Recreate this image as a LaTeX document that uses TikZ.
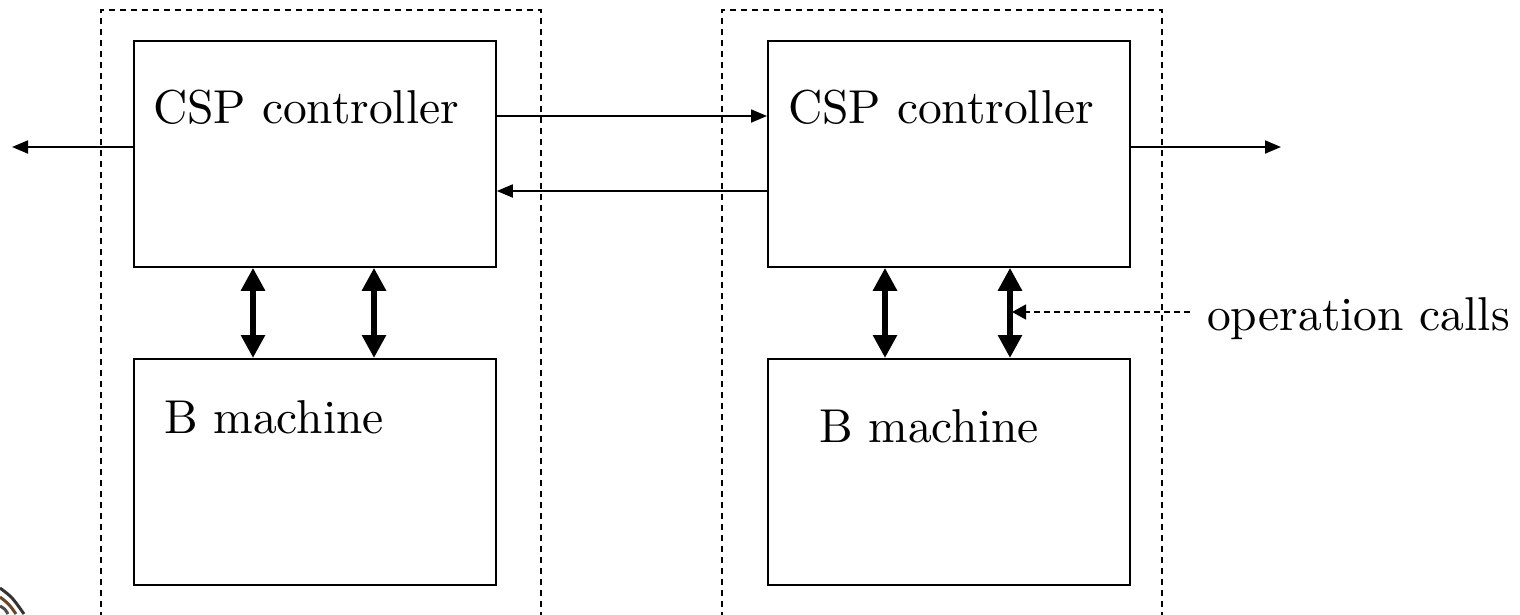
\documentclass[tikz,border=0pt]{standalone}
\usetikzlibrary{arrows.meta}
\newcommand{\bigtext}[1]{\scalebox{4.75}{\fontsize{10}{12}\selectfont #1}}
\begin{document}
\begin{tikzpicture}[x=1pt,y=-1pt,
  unit/.style={draw=black,dash pattern=on 6pt off 5pt,line width=1.4pt},
  block/.style={draw=black,line width=1.8pt,minimum width=362pt,minimum height=226pt,inner sep=0pt,anchor=north west},
  label/.style={inner sep=0pt,anchor=base west},
  msg/.style={line width=1.8pt,-{Triangle[length=16pt,width=13pt]}},
  call/.style={line width=6pt,{Triangle[length=23pt,width=23pt]}-{Triangle[length=23pt,width=23pt]}},
  note/.style={dash pattern=on 6pt off 4pt,line width=1.4pt,-{Triangle[length=14pt,width=15pt]}}]
\useasboundingbox (0,0) rectangle (1520,614);
\clip (0,0) rectangle (1520,614);

% component frames (open at the bottom of the page)
\draw[unit] (101,640) -- (101,10) -- (541,10) -- (541,640);
\draw[unit] (722,640) -- (722,10) -- (1162,10) -- (1162,640);

% left component
\node[block] (cspL) at (133,40) {};
\node[block] (bL) at (133,358) {};
\node[label] (cspLt) at (153,123) {\bigtext{CSP controller}};
\node[label] (bLt) at (164,433) {\bigtext{B machine}};

% right component
\node[block] (cspR) at (767,40) {};
\node[block] (bR) at (767,358) {};
\node[label] (cspRt) at (788,123) {\bigtext{CSP controller}};
\node[label] (bRt) at (819,442) {\bigtext{B machine}};

% channels between controllers
\draw[msg] (cspL.east |- 0,116) -- (cspR.west |- 0,116);
\draw[msg] (cspR.west |- 0,191) -- (cspL.east |- 0,191);

\coordinate (outL) at (12,147);
\coordinate (outR) at (1281,147);
\draw[msg] (cspL.west |- outL) -- (outL);
\draw[msg] (cspR.east |- outR) -- (outR);

% operation calls between controller and machine
\draw[call] (cspL.south -| 253,0) -- (bL.north -| 253,0);
\draw[call] (cspL.south -| 374,0) -- (bL.north -| 374,0);
\draw[call] (cspR.south -| 885,0) -- (bR.north -| 885,0);
\draw[call] (cspR.south -| 1010,0) -- (bR.north -| 1010,0);

\node[label] (ops) at (1207,330) {\bigtext{operation calls}};
\coordinate (opsTip) at (1012,312);
\draw[note] (1190,312) -- (opsTip);

% page ornament in the lower left corner
\begin{scope}[line width=3pt]
  \draw[black!80] (0,588) .. controls (12,597) .. (24,614);
  \draw[brown!55!black] (0,597) .. controls (9,604) .. (16,614);
  \draw[black!70] (0,606) .. controls (5,609) .. (8,614);
\end{scope}
\end{tikzpicture}
\end{document}
